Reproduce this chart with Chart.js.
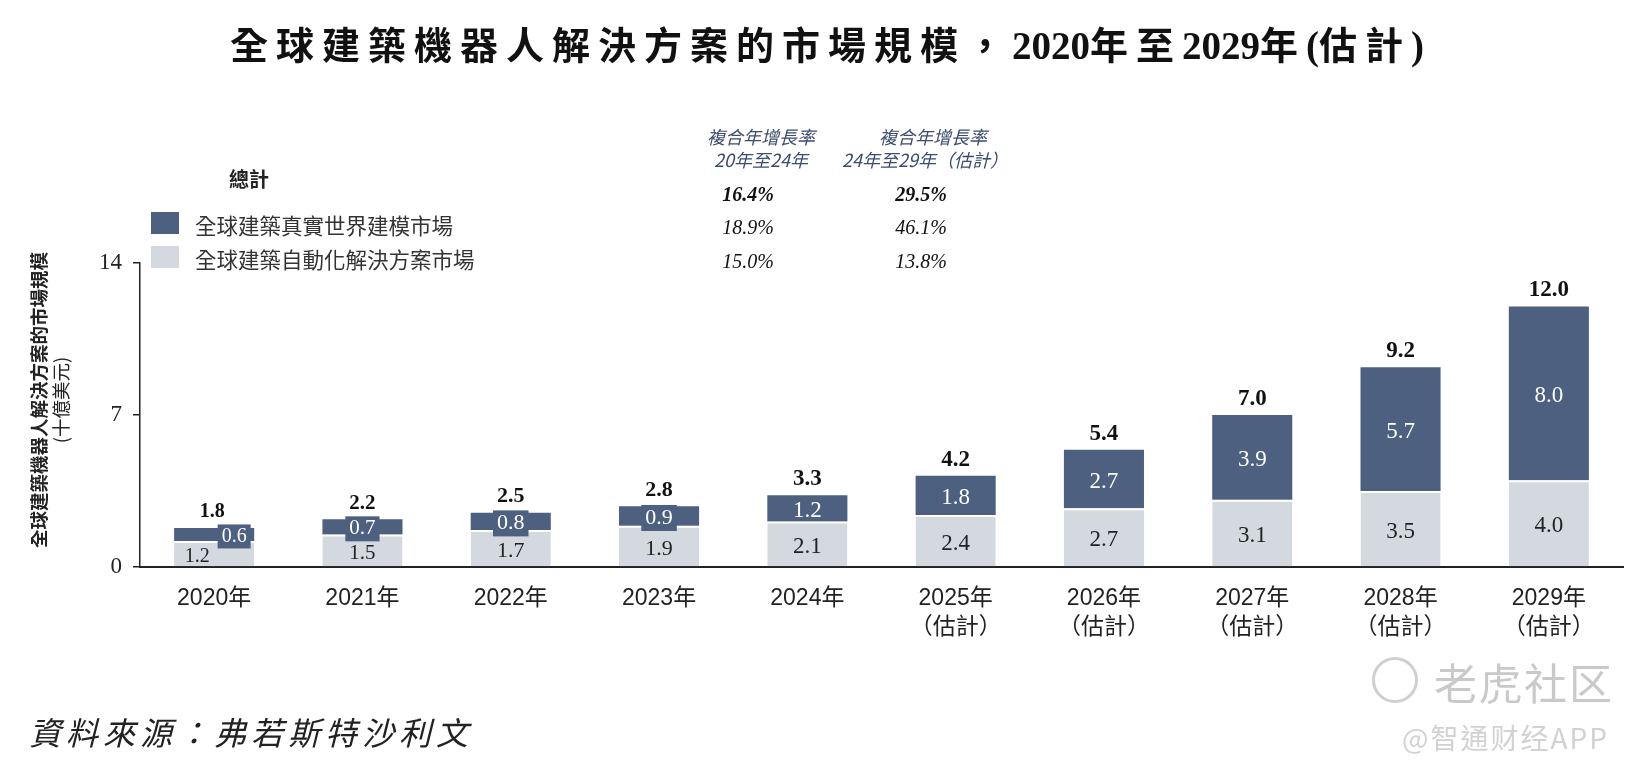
<!DOCTYPE html>
<html>
<head>
<meta charset="utf-8">
<script src="https://cdn.jsdelivr.net/npm/chart.js@4.4.1/dist/chart.umd.min.js"></script>
<style>
  body { margin: 0; background: #fff; }
  #wrap { position: relative; width: 1630px; height: 776px; overflow: hidden; font-family: "Noto Sans CJK TC", sans-serif; color: #222; }
  #chart { position: absolute; left: 0; top: 0; }
  .abs { position: absolute; white-space: nowrap; }
  #title { left: 827px; top: 42px; transform: translate(-50%, -50%); font-family: "Liberation Serif", "Noto Sans CJK TC"; font-weight: 700; color: #111; }
  #title .cj { font-size: 38px; letter-spacing: 8px; }
  #title .dg { font-size: 39px; }
  #title .pa { font-size: 39px; }
  #ytitle { left: 49px; top: 400px; transform: translate(-50%, -50%) rotate(-90deg); text-align: center; font-size: 18.5px; line-height: 22px; color: #222; }
  #ytitle .l1 { font-weight: 700; }
  .sq { position: absolute; width: 28px; height: 22px; }
  .leg { font-size: 21.5px; color: #333; transform: translateY(-50%); }
  .cagrh { font-size: 18px; font-style: italic; color: #3c4d6e; transform: translate(-50%, -50%); }
  .cagrv { font-family: "Liberation Serif"; font-size: 20px; font-style: italic; color: #111; transform: translate(-50%, -50%); }
  #source { left: 29px; top: 731px; transform: translateY(-50%); font-size: 32px; font-style: italic; letter-spacing: 5px; color: #222; }
  #wm1 { left: 1434px; top: 681px; transform: translateY(-50%); font-size: 43px; color: #c9c9c9; letter-spacing: 2px; }
  #wm2 { left: 1402px; top: 737px; transform: translateY(-50%); font-size: 28px; color: #d2d2d2; letter-spacing: 2px; }
  #logo { left: 1372px; top: 657px; width: 40px; height: 40px; border: 3px solid #cfcfcf; border-radius: 50%; }
</style>
</head>
<body>
<div id="wrap">
  <canvas id="chart" width="1630" height="776"></canvas>

  <div id="title" class="abs"><span class="cj">全球建築機器人解決方案的市場規模，</span><span class="dg">2020</span><span class="cj">年至</span><span class="dg">2029</span><span class="cj">年</span><span class="pa">(</span><span class="cj">估計</span><span class="pa">)</span></div>

  <div id="ytitle" class="abs"><div class="l1">全球建築機器人解決方案的市場規模</div><div>(十億美元)</div></div>

  <div class="abs" style="left:249px; top:178px; transform:translate(-50%,-50%); font-size:20px; font-weight:700; color:#222;">總計</div>
  <div class="sq" style="left:151px; top:212px; background:#4e6080;"></div>
  <div class="abs leg" style="left:195px; top:224px;">全球建築真實世界建模市場</div>
  <div class="sq" style="left:151px; top:246px; background:#d3d9df;"></div>
  <div class="abs leg" style="left:195px; top:258px;">全球建築自動化解決方案市場</div>

  <div class="abs cagrh" style="left:761px; top:136px;">複合年增長率</div>
  <div class="abs cagrh" style="left:761px; top:159px;">20年至24年</div>
  <div class="abs cagrh" style="left:933px; top:136px;">複合年增長率</div>
  <div class="abs cagrh" style="left:925px; top:159px;">24年至29年（估計）</div>

  <div id="cagr"></div>

  <div id="source" class="abs">資料來源：弗若斯特沙利文</div>
  <div id="logo" class="abs"></div>
  <div id="wm1" class="abs">老虎社区</div>
  <div id="wm2" class="abs">@智通财经APP</div>
</div>

<script>
const xLabels = ["2020年", "2021年", "2022年", "2023年", "2024年",
  ["2025年", "（估計）"], ["2026年", "（估計）"], ["2027年", "（估計）"],
  ["2028年", "（估計）"], ["2029年", "（估計）"]];
const automation = [1.2, 1.5, 1.7, 1.9, 2.1, 2.4, 2.7, 3.1, 3.5, 4.0];
const modeling = [0.6, 0.7, 0.8, 0.9, 1.2, 1.8, 2.7, 3.9, 5.7, 8.0];
const totals = [1.8, 2.2, 2.5, 2.8, 3.3, 4.2, 5.4, 7.0, 9.2, 12.0];
const yTicks = [0, 7, 14];

const cagrRows = ["總計", "全球建築真實世界建模市場", "全球建築自動化解決方案市場"];
const cagr2024 = ["16.4%", "18.9%", "15.0%"];
const cagr2029 = ["29.5%", "46.1%", "13.8%"];

const DARK = "#4e6080";
const LIGHT = "#d3d9df";

// CAGR table values
const rowY = [194, 227, 261];
const cagrBox = document.getElementById("cagr");
cagrRows.forEach((r, i) => {
  [[cagr2024[i], 748], [cagr2029[i], 921]].forEach(([v, x]) => {
    const d = document.createElement("div");
    d.className = "abs cagrv";
    d.style.left = x + "px";
    d.style.top = rowY[i] + "px";
    if (i === 0) d.style.fontWeight = "700";
    d.textContent = v;
    cagrBox.appendChild(d);
  });
});

// labels on the bars
const barLabels = {
  id: "barLabels",
  afterDatasetsDraw(chart) {
    const ctx = chart.ctx;
    const lightMeta = chart.getDatasetMeta(0);
    const darkMeta = chart.getDatasetMeta(1);
    ctx.save();
    ctx.textAlign = "center";
    ctx.textBaseline = "middle";
    totals.forEach((t, i) => {
      const lb = lightMeta.data[i];
      const db = darkMeta.data[i];
      const small = i < 4;
      const fs = i === 0 ? 20 : i === 1 ? 21 : i < 4 ? 22 : 23;
      const font = fs + 'px "Liberation Serif"';

      // lower segment
      ctx.font = font;
      ctx.fillStyle = "#222";
      ctx.fillText(automation[i].toFixed(1), lb.x + (i === 0 ? -17 : 0), (lb.y + lb.base) / 2 + 3);

      // upper segment
      const txt = modeling[i].toFixed(1);
      const dx = db.x + (i === 0 ? 20 : 0);
      const dy = (db.y + db.base) / 2 + (small ? 2 : 3);
      if (small) {
        const w = ctx.measureText(txt).width + 8;
        const h = fs + 4;
        ctx.fillStyle = DARK;
        ctx.fillRect(dx - w / 2, dy - h / 2, w, h);
      }
      ctx.fillStyle = "#fff";
      ctx.fillText(txt, dx, dy);

      // total
      ctx.font = "bold " + font;
      ctx.fillStyle = "#111";
      ctx.fillText(t.toFixed(1), db.x + (i === 0 ? -2 : 0), db.y - 16);
    });
    ctx.restore();
  }
};

new Chart(document.getElementById("chart").getContext("2d"), {
  type: "bar",
  data: {
    labels: xLabels,
    datasets: [
      {
        label: "全球建築自動化解決方案市場",
        data: automation,
        backgroundColor: LIGHT,
        borderColor: "#fff",
        borderWidth: { top: 2, left: 0, right: 0, bottom: 0 },
        borderSkipped: false,
        barPercentage: 0.54,
        categoryPercentage: 1
      },
      {
        label: "全球建築真實世界建模市場",
        data: modeling,
        backgroundColor: DARK,
        borderWidth: 0,
        barPercentage: 0.54,
        categoryPercentage: 1
      }
    ]
  },
  options: {
    responsive: false,
    animation: false,
    layout: { padding: { top: 263, right: 7, left: 0, bottom: 0 } },
    plugins: { legend: { display: false }, tooltip: { enabled: false } },
    scales: {
      x: {
        stacked: true,
        offset: true,
        grid: { display: false, drawTicks: false },
        border: { display: true, color: "#222", width: 2 },
        ticks: {
          color: "#222",
          padding: 17,
          maxRotation: 0,
          autoSkip: false,
          font: { family: '"Liberation Sans", "Noto Sans CJK TC"', size: 23, lineHeight: 1.27 }
        },
        afterFit: s => { s.height = 209; }
      },
      y: {
        stacked: true,
        min: 0,
        max: 14,
        afterBuildTicks: s => { s.ticks = yTicks.map(v => ({ value: v })); },
        grid: { display: true, drawOnChartArea: false, drawTicks: true, tickLength: 7, color: "#222", lineWidth: 1.5 },
        border: { display: true, color: "#222", width: 1.5 },
        ticks: {
          color: "#222",
          padding: 11,
          font: { family: '"Liberation Serif"', size: 23 }
        },
        afterFit: s => { s.width = 140; }
      }
    }
  },
  plugins: [barLabels]
});
</script>
</body>
</html>
